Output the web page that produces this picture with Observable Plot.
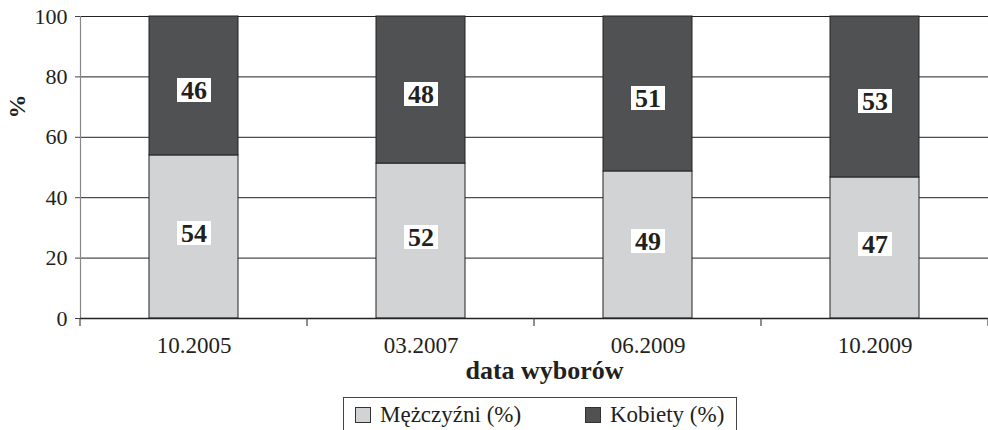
<!DOCTYPE html>
<html><head><meta charset="utf-8">
<script src="https://cdn.jsdelivr.net/npm/d3@7"></script>
<script src="https://cdn.jsdelivr.net/npm/@observablehq/plot@0.6"></script>
<style>
body{margin:0;background:#fff;}
#wrap{position:relative;width:988px;height:430px;overflow:hidden;font-family:"Liberation Serif","Times New Roman",serif;color:#231f20;}
#wrap svg{position:absolute;left:0;top:0;}
#legend{position:absolute;left:343px;top:397px;width:394px;height:42px;border:1px solid #444;box-sizing:border-box;font-size:23px;}
.item{position:absolute;top:4px;display:flex;align-items:center;white-space:nowrap;line-height:26px;}
.sw{width:14px;height:14px;border:1px solid #333;margin-right:9px;}
</style></head>
<body><div id="wrap"></div>
<script>
const dates = ["10.2005", "03.2007", "06.2009", "10.2009"];
const men = [54, 51.3, 48.7, 46.7];
const women = [46, 48.7, 51.3, 53.3];
const menLabels = [54, 52, 49, 47];
const womenLabels = [46, 48, 51, 53];
const series = ["Mężczyźni (%)", "Kobiety (%)"];
const colors = ["#d2d3d5", "#505153"];
const yTicks = [0, 20, 40, 60, 80, 100];
const gridTicks = [20, 40, 60, 80, 100];
const xTitle = "data wyborów";
const yTitle = "%";

const bars = [];
const labels = [];
dates.forEach((d, i) => {
  bars.push({date: d, s: series[0], y1: 0, y2: men[i]});
  bars.push({date: d, s: series[1], y1: men[i], y2: men[i] + women[i]});
  labels.push({date: d, s: series[0], y: men[i] / 2, t: menLabels[i]});
  labels.push({date: d, s: series[1], y: men[i] + women[i] / 2, t: womenLabels[i]});
});
const menRows = labels.filter(d => d.s === series[0]);
const womenRows = labels.filter(d => d.s === series[1]);

const boxSymbol = {draw(ctx) { ctx.rect(-17, -12, 34, 24); }};

function sepTicks(index, scales) {
  const x = scales.x, y = scales.y;
  const bw = typeof x.bandwidth === "function" ? x.bandwidth() : x.bandwidth;
  const step = x(dates[1]) - x(dates[0]);
  const pos = dates.map(d => x(d) + bw / 2 - step / 2);
  pos.push(x(dates[dates.length - 1]) + bw / 2 + step / 2);
  const y0 = y(0);
  const g = d3.create("svg:g");
  g.selectAll("line").data(pos).join("line")
    .attr("x1", d => d).attr("x2", d => d)
    .attr("y1", y0).attr("y2", y0 + 8)
    .attr("stroke", "#444").attr("stroke-width", 1.2);
  return g.node();
}

const chart = Plot.plot({
  width: 988,
  height: 395,
  marginLeft: 80,
  marginRight: 0,
  marginTop: 16,
  marginBottom: 77,
  style: {fontFamily: "'Liberation Serif', 'Times New Roman', serif", color: "#231f20", background: "transparent"},
  x: {domain: dates, paddingInner: 0.61, paddingOuter: 0.305, axis: null},
  y: {domain: [0, 100], axis: null},
  color: {domain: series, range: colors},
  marks: [
    Plot.ruleY(gridTicks, {stroke: "#222", strokeWidth: 1}),
    Plot.barY(bars, {x: "date", y1: "y1", y2: "y2", fill: "s", stroke: "#222", strokeWidth: 1}),
    Plot.frame({anchor: "left", stroke: "#888", strokeWidth: 1.2}),
    Plot.ruleY([0], {stroke: "#222", strokeWidth: 1.5}),
    sepTicks,
    Plot.axisY({ticks: yTicks, tickSize: 5, tickPadding: 8, fontSize: 22, label: null, stroke: "#444"}),
    Plot.dot(menRows, {x: "date", y: "y", r: 1, symbol: boxSymbol, fill: "white", stroke: "none", dy: -4}),
    Plot.dot(womenRows, {x: "date", y: "y", r: 1, symbol: boxSymbol, fill: "white", stroke: "none", dy: 4}),
    Plot.text(menRows, {x: "date", y: "y", text: "t", fontSize: 26, fontWeight: "bold", fill: "#231f20", dy: -3}),
    Plot.text(womenRows, {x: "date", y: "y", text: "t", fontSize: 26, fontWeight: "bold", fill: "#231f20", dy: 5}),
    Plot.text(dates, {x: d => d, text: d => d, frameAnchor: "bottom", lineAnchor: "bottom", dy: 34, fontSize: 23, fill: "#231f20"}),
    Plot.text([xTitle], {frameAnchor: "bottom", lineAnchor: "bottom", dy: 60, dx: 10, fontSize: 26, fontWeight: "bold", fill: "#231f20"}),
    Plot.text([yTitle], {frameAnchor: "top-left", textAnchor: "middle", lineAnchor: "middle", dx: -63, dy: 90, rotate: -90, fontSize: 24, fontWeight: "bold", fill: "#231f20"})
  ]
});

const wrap = document.getElementById("wrap");
wrap.appendChild(chart);
const legend = document.createElement("div");
legend.id = "legend";
const lefts = [11, 241];
series.forEach((s, i) => {
  const it = document.createElement("div");
  it.className = "item";
  it.style.left = lefts[i] + "px";
  const sw = document.createElement("span");
  sw.className = "sw";
  sw.style.background = colors[i];
  const tx = document.createElement("span");
  tx.textContent = s;
  it.appendChild(sw);
  it.appendChild(tx);
  legend.appendChild(it);
});
wrap.appendChild(legend);
</script>
</body></html>
